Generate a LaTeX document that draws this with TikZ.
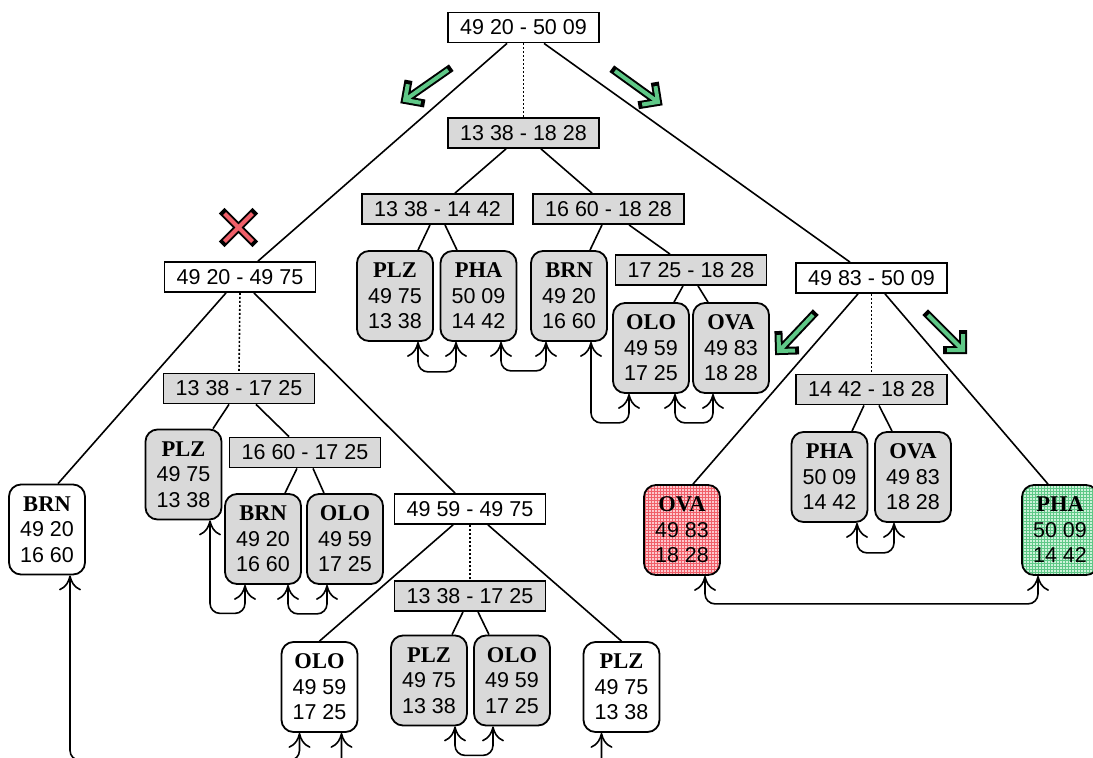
\documentclass[tikz,border=0pt]{standalone}
\usepackage{fontspec}
\setmainfont{Liberation Sans}
\newfontfamily\tnr{Liberation Serif}
\usetikzlibrary{arrows.meta,calc,patterns}

\definecolor{boxgray}{RGB}{217,217,217}
\definecolor{mint}{RGB}{95,200,135}
\definecolor{xred}{RGB}{240,95,105}
\definecolor{pinkbg}{RGB}{252,200,205}
\definecolor{pinkline}{RGB}{240,95,105}
\definecolor{greenbg}{RGB}{205,242,218}
\definecolor{greenline}{RGB}{95,200,135}

\tikzset{
  rangebox/.style={draw, line width=1.8pt, minimum width=151pt, minimum height=30pt,
    inner sep=0pt, font=\fontsize{21.5}{25}\selectfont},
  rangegray/.style={rangebox, fill=boxgray},
  leafbox/.style={draw, rounded corners=12pt, line width=1.8pt, minimum width=76pt,
    minimum height=90pt, inner sep=0pt, align=center, font=\fontsize{21.5}{25.5}\selectfont},
  leafgray/.style={leafbox, fill=boxgray},
  leafred/.style={leafbox, preaction={fill=pinkbg}, pattern=grid, pattern color=pinkline},
  leafgreen/.style={leafbox, preaction={fill=greenbg}, pattern=grid, pattern color=greenline},
  treeedge/.style={line width=1.6pt},
  splitline/.style={line width=1.6pt, dash pattern=on 2pt off 2pt},
  linktip/.tip={Computer Modern Rightarrow[length=15pt,width=22pt,line width=1.6pt]},
  leaflink/.style={line width=1.6pt, rounded corners=10pt, linktip-linktip},
}

% bold serif station name
\newcommand\nm[1]{{\tnr\bfseries\fontsize{22.5}{25.5}\selectfont #1}}

% thick outlined arrow: #1 tail, #2 tip
\newcommand\fatarrow[2]{%
  \draw[line width=8pt, line cap=rect, line join=miter]
    (#1) -- ($(#2)!4pt!(#1)$)
    ($(#2)!16pt!45:(#1)$) -- (#2) -- ($(#2)!16pt!-45:(#1)$);
  \draw[line width=4pt, mint, line cap=butt, line join=miter]
    (#1) -- (#2)
    ($(#2)!16pt!45:(#1)$) -- (#2) -- ($(#2)!16pt!-45:(#1)$);
}

\begin{document}
\begin{tikzpicture}[x=1pt,y=-1pt]
\useasboundingbox (0,0) rectangle (1093,758);
\clip (0,0) rectangle (1093,758);

% range nodes
\node[rangebox]  (top) at (523.5,27.5) {49 20 - 50 09};
\node[rangegray] (m1)  at (523.5,133)  {13 38 - 18 28};
\node[rangegray] (a)   at (437.5,209)  {13 38 - 14 42};
\node[rangegray] (b)   at (608.5,209)  {16 60 - 18 28};
\node[rangegray] (c)   at (691,270)    {17 25 - 18 28};
\node[rangebox]  (L1)  at (240,277)    {49 20 - 49 75};
\node[rangegray] (d)   at (239,388.5)  {13 38 - 17 25};
\node[rangegray] (e)   at (305,452.5)  {16 60 - 17 25};
\node[rangebox]  (L2)  at (470,509)    {49 59 - 49 75};
\node[rangegray] (f)   at (470,596)    {13 38 - 17 25};
\node[rangebox]  (R1)  at (871.5,278)  {49 83 - 50 09};
\node[rangegray] (g)   at (871.5,389.5){14 42 - 18 28};

% leaves
\node[leafgray]  (plzA) at (395,296)   {\nm{PLZ}\\49 75\\13 38};
\node[leafgray]  (phaA) at (478.5,296) {\nm{PHA}\\50 09\\14 42};
\node[leafgray]  (brnA) at (569,296)   {\nm{BRN}\\49 20\\16 60};
\node[leafgray]  (oloA) at (651,348)   {\nm{OLO}\\49 59\\17 25};
\node[leafgray]  (ovaA) at (731,348)   {\nm{OVA}\\49 83\\18 28};
\node[leafbox]   (brnW) at (47,529.5)  {\nm{BRN}\\49 20\\16 60};
\node[leafgray]  (plzB) at (183.5,474.5){\nm{PLZ}\\49 75\\13 38};
\node[leafgray]  (brnB) at (263,539)   {\nm{BRN}\\49 20\\16 60};
\node[leafgray]  (oloB) at (345,539)   {\nm{OLO}\\49 59\\17 25};
\node[leafbox]   (oloW) at (319.5,687) {\nm{OLO}\\49 59\\17 25};
\node[leafgray]  (plzC) at (429,680.5) {\nm{PLZ}\\49 75\\13 38};
\node[leafgray]  (oloC) at (512,680.5) {\nm{OLO}\\49 59\\17 25};
\node[leafbox]   (plzW) at (621.5,687) {\nm{PLZ}\\49 75\\13 38};
\node[leafred]   (ovaR) at (682,530)   {\nm{OVA}\\49 83\\18 28};
\node[leafgray]  (phaB) at (829.5,477) {\nm{PHA}\\50 09\\14 42};
\node[leafgray]  (ovaB) at (913,477)   {\nm{OVA}\\49 83\\18 28};
\node[leafgreen] (phaG) at (1060,530)  {\nm{PHA}\\50 09\\14 42};

% tree edges
\draw[treeedge] ([xshift=-16.5pt]top.south) -- ([xshift=18pt]L1.north);
\draw[treeedge] ([xshift=20.5pt]top.south) -- ([xshift=-21.5pt]R1.north);
\draw[splitline] (top.south) -- (m1.north);
\draw[treeedge] ([xshift=-17.5pt]m1.south) -- ([xshift=17.5pt]a.north);
\draw[treeedge] ([xshift=17.5pt]m1.south) -- ([xshift=-16.5pt]b.north);
\draw[treeedge] ([xshift=-7.5pt]a.south) -- ([xshift=23pt]plzA.north);
\draw[treeedge] ([xshift=7.5pt]a.south) -- ([xshift=-21.5pt]phaA.north);
\draw[treeedge] ([xshift=-6.5pt]b.south) -- ([xshift=21pt]brnA.north);
\draw[treeedge] ([xshift=20.5pt]b.south) -- ([xshift=-21pt]c.north);
\draw[treeedge] ([xshift=-8pt]c.south) -- ([xshift=23pt]oloA.north);
\draw[treeedge] ([xshift=7pt]c.south) -- ([xshift=-23pt]ovaA.north);

\draw[treeedge] ([xshift=-14pt]L1.south) -- ([xshift=11pt]brnW.north);
\draw[splitline] (L1.south) -- (d.north);
\draw[treeedge] ([xshift=14pt]L1.south) -- ([xshift=-15pt]L2.north);
\draw[treeedge] ([xshift=-10pt]d.south) -- ([xshift=29.5pt]plzB.north);
\draw[treeedge] ([xshift=17pt]d.south) -- ([xshift=-16pt]e.north);
\draw[treeedge] ([xshift=-8pt]e.south) -- ([xshift=22pt]brnB.north);
\draw[treeedge] ([xshift=8pt]e.south) -- ([xshift=-21pt]oloB.north);
\draw[treeedge] ([xshift=-17pt]L2.south) -- (oloW.north);
\draw[splitline] (L2.south) -- (f.north);
\draw[treeedge] ([xshift=18pt]L2.south) -- (plzW.north);
\draw[treeedge] ([xshift=-7pt]f.south) -- ([xshift=23pt]plzC.north);
\draw[treeedge] ([xshift=8pt]f.south) -- ([xshift=-23pt]oloC.north);

\draw[treeedge] ([xshift=-13.5pt]R1.south) -- ([xshift=11pt]ovaR.north);
\draw[splitline] (R1.south) -- (g.north);
\draw[treeedge] ([xshift=13.5pt]R1.south) -- ([xshift=-12pt]phaG.north);
\draw[treeedge] ([xshift=-7.5pt]g.south) -- ([xshift=22.5pt]phaB.north);
\draw[treeedge] ([xshift=7.5pt]g.south) -- ([xshift=-21pt]ovaB.north);

% links between neighbouring leaves
\draw[leaflink] ([xshift=23pt]plzA.south) -- ++(0,30) -| ([xshift=-22.5pt]phaA.south);
\draw[leaflink] ([xshift=22.5pt]phaA.south) -- ++(0,29) -| ([xshift=-23pt]brnA.south);
\draw[leaflink] ([xshift=22pt]brnA.south) -- ++(0,81) -| ([xshift=-22pt]oloA.south);
\draw[leaflink] ([xshift=24pt]oloA.south) -- ++(0,29) -| ([xshift=-18pt]ovaA.south);
\draw[leaflink] ([xshift=23pt]brnW.south) -- ++(0,185) -| ([xshift=-20pt]oloW.south);
\draw[leaflink] ([xshift=22pt]oloW.south) -- ++(0,45) -| ([xshift=-20pt]plzW.south);
\draw[leaflink] ([xshift=26.5pt]plzB.south) -- ++(0,93) -| ([xshift=-18pt]brnB.south);
\draw[leaflink] ([xshift=25pt]brnB.south) -- ++(0,29) -| ([xshift=-18pt]oloB.south);
\draw[leaflink] ([xshift=26pt]plzC.south) -- ++(0,29) -| ([xshift=-19pt]oloC.south);
\draw[leaflink] ([xshift=27.5pt]phaB.south) -- ++(0,30) -| ([xshift=-19pt]ovaB.south);
\draw[leaflink] ([xshift=23pt]ovaR.south) -- ++(0,28) -| ([xshift=-22pt]phaG.south);

% direction arrows
\coordinate (g1t) at (448,70);  \coordinate (g1h) at (405,100);
\coordinate (g2t) at (615,71);  \coordinate (g2h) at (658,102);
\coordinate (g3t) at (813,315); \coordinate (g3h) at (779,351);
\coordinate (g4t) at (928,315); \coordinate (g4h) at (963,350);
\fatarrow{g1t}{g1h}
\fatarrow{g2t}{g2h}
\fatarrow{g3t}{g3h}
\fatarrow{g4t}{g4h}

% rejection cross
\coordinate (xc) at (238.5,227.5);
\draw[line width=8pt, line cap=rect] ($(xc)+(-14,-14)$) -- ($(xc)+(14,14)$) ($(xc)+(-14,14)$) -- ($(xc)+(14,-14)$);
\draw[line width=4pt, xred] ($(xc)+(-14,-14)$) -- ($(xc)+(14,14)$) ($(xc)+(-14,14)$) -- ($(xc)+(14,-14)$);
\end{tikzpicture}
\end{document}
